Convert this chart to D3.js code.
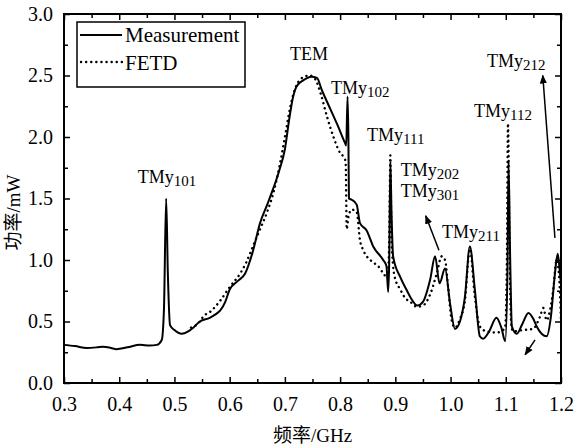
<!DOCTYPE html>
<html>
<head>
<meta charset="utf-8">
<script src="https://cdn.jsdelivr.net/npm/d3@7/dist/d3.min.js"></script>
<style>
  body { margin: 0; background: #fff; }
  text { font-family: "Liberation Serif", "Noto Sans CJK SC", serif; fill: #000; }
</style>
</head>
<body>
<div id="chart"></div>
<script>
// measured power (solid)
var measFreq = [0.300, 0.320, 0.341, 0.360, 0.371, 0.385, 0.395, 0.415, 0.438, 0.455, 0.468, 0.477, 0.481, 0.485, 0.488, 0.492,
    0.500, 0.513, 0.525, 0.534, 0.546, 0.564, 0.575, 0.583, 0.592, 0.600, 0.615, 0.628, 0.642, 0.655, 0.668, 0.678, 0.690,
    0.700, 0.708, 0.715, 0.721, 0.733, 0.748, 0.758, 0.767, 0.780, 0.795, 0.809, 0.811, 0.8135, 0.815, 0.816, 0.821, 0.830,
    0.836, 0.848, 0.860, 0.878, 0.884, 0.887, 0.889, 0.891, 0.893, 0.896, 0.909, 0.920, 0.927, 0.940, 0.950, 0.963, 0.972,
    0.980, 0.990, 0.999, 1.008, 1.017, 1.026, 1.035, 1.044, 1.053, 1.059, 1.070, 1.083, 1.092, 1.099, 1.103, 1.105, 1.108,
    1.111, 1.120, 1.130, 1.141, 1.150, 1.156, 1.174, 1.182, 1.189, 1.194, 1.197, 1.200];
var measPower = [0.31, 0.30, 0.285, 0.29, 0.295, 0.285, 0.275, 0.29, 0.31, 0.305, 0.31, 0.35, 0.60, 1.50, 0.90, 0.47,
    0.43, 0.40, 0.42, 0.45, 0.50, 0.53, 0.56, 0.59, 0.66, 0.76, 0.83, 0.89, 1.07, 1.30, 1.45, 1.57, 1.73,
    1.90, 2.15, 2.33, 2.41, 2.46, 2.49, 2.48, 2.38, 2.25, 2.10, 1.95, 1.93, 2.33, 2.00, 1.50, 1.49, 1.45,
    1.30, 1.24, 1.11, 1.00, 0.95, 0.74, 1.00, 1.80, 1.40, 1.03, 0.86, 0.76, 0.70, 0.63, 0.66, 0.84, 1.03,
    0.81, 0.93, 0.65, 0.44, 0.50, 0.70, 1.11, 0.76, 0.38, 0.36, 0.42, 0.53, 0.45, 0.34, 0.90, 1.80, 1.00,
    0.46, 0.40, 0.48, 0.57, 0.52, 0.46, 0.38, 0.55, 0.89, 1.05, 0.95, 0.80];

// FETD simulation (dotted)
var fetdFreq = [0.530, 0.546, 0.552, 0.565, 0.583, 0.600, 0.619, 0.630, 0.642, 0.655, 0.667, 0.680, 0.691, 0.700, 0.710,
    0.721, 0.735, 0.745, 0.755, 0.765, 0.776, 0.788, 0.800, 0.806, 0.810, 0.812, 0.815, 0.821, 0.830, 0.836, 0.842,
    0.857, 0.869, 0.880, 0.886, 0.889, 0.891, 0.893, 0.896, 0.899, 0.909, 0.918, 0.927, 0.939, 0.950, 0.963, 0.975,
    0.984, 0.990, 0.996, 1.002, 1.008, 1.017, 1.026, 1.035, 1.044, 1.053, 1.065, 1.083, 1.095, 1.099, 1.102, 1.104,
    1.107, 1.110, 1.113, 1.131, 1.149, 1.162, 1.168, 1.174, 1.180, 1.186, 1.192, 1.196, 1.200];
var fetdPower = [0.45, 0.50, 0.54, 0.58, 0.67, 0.78, 0.89, 0.98, 1.11, 1.25, 1.38, 1.56, 1.78, 2.00, 2.25,
    2.42, 2.49, 2.50, 2.47, 2.35, 2.17, 2.00, 1.87, 1.84, 1.80, 1.25, 1.35, 1.41, 1.39, 1.16, 1.08,
    0.99, 0.95, 0.88, 0.85, 1.20, 1.85, 1.20, 0.95, 0.86, 0.76, 0.69, 0.66, 0.62, 0.63, 0.72, 0.89,
    1.03, 1.00, 0.76, 0.51, 0.45, 0.52, 0.67, 1.09, 0.70, 0.46, 0.42, 0.41, 0.43, 0.46, 1.00, 2.11,
    1.00, 0.47, 0.42, 0.43, 0.44, 0.54, 0.61, 0.51, 0.59, 0.76, 1.00, 0.90, 0.50];

var xTicks = [0.3, 0.4, 0.5, 0.6, 0.7, 0.8, 0.9, 1.0, 1.1, 1.2];
var yTicks = [0, 0.5, 1.0, 1.5, 2.0, 2.5, 3.0];

// mode labels: main text, subscript, anchor point (GHz, mW)
var labelMain = ["TMy", "TEM", "TMy", "TMy", "TMy", "TMy", "TMy", "TMy", "TMy"];
var labelSub = ["101", "", "102", "111", "202", "301", "211", "112", "212"];
var labelX = [0.4865, 0.7437, 0.7835, 0.8487, 0.910, 0.910, 0.9845, 1.0425, 1.066];
var labelY = [1.63, 2.63, 2.35, 1.97, 1.68, 1.51, 1.18, 2.16, 2.57];
var labelAnchor = ["middle", "middle", "start", "start", "start", "start", "start", "start", "start"];

// arrows: from (x1,y1) to (x2,y2)
var arrowX1 = [0.979, 1.153, 1.189];
var arrowY1 = [1.08, 0.35, 1.18];
var arrowX2 = [0.955, 1.135, 1.167];
var arrowY2 = [1.36, 0.23, 2.50];

var margin = {top: 14, right: 14, bottom: 63, left: 64},
    width = 575 - margin.left - margin.right,
    height = 446 - margin.top - margin.bottom;

var svg = d3.select("#chart").append("svg")
    .attr("width", 575)
    .attr("height", 446);

var defs = svg.append("defs");
defs.append("marker")
    .attr("id", "head")
    .attr("viewBox", "0 0 10 10")
    .attr("refX", 9).attr("refY", 5)
    .attr("markerWidth", 9).attr("markerHeight", 9)
    .attr("markerUnits", "userSpaceOnUse")
    .attr("orient", "auto")
  .append("path")
    .attr("d", "M0,1 L10,5 L0,9 Z")
    .attr("fill", "#000");

var g = svg.append("g")
    .attr("transform", "translate(" + margin.left + "," + margin.top + ")");

var x = d3.scaleLinear().domain([0.3, 1.2]).range([0, width]);
var y = d3.scaleLinear().domain([0, 3.0]).range([height, 0]);

// minor ticks
var xMinor = d3.range(0.35, 1.2, 0.1);
var yMinor = d3.range(0.25, 3.0, 0.5);

function styleAxis(sel) {
    sel.select(".domain").remove();
    sel.selectAll("line").attr("stroke", "#000").attr("stroke-width", 1.5);
    sel.selectAll("text").style("font-size", "20px");
}

g.append("g")
    .attr("transform", "translate(0," + height + ")")
    .call(d3.axisBottom(x).tickValues(xTicks).tickFormat(d3.format(".1f")).tickSizeInner(-6).tickSizeOuter(0).tickPadding(14))
    .call(styleAxis);
g.append("g")
    .attr("transform", "translate(0," + height + ")")
    .call(d3.axisBottom(x).tickValues(xMinor).tickFormat("").tickSizeInner(-4).tickSizeOuter(0))
    .call(styleAxis);
g.append("g")
    .call(d3.axisTop(x).tickValues(xTicks).tickFormat("").tickSizeInner(-6).tickSizeOuter(0))
    .call(styleAxis);
g.append("g")
    .call(d3.axisTop(x).tickValues(xMinor).tickFormat("").tickSizeInner(-4).tickSizeOuter(0))
    .call(styleAxis);

g.append("g")
    .call(d3.axisLeft(y).tickValues(yTicks).tickFormat(d3.format(".1f")).tickSizeInner(-6).tickSizeOuter(0).tickPadding(11))
    .call(styleAxis);
g.append("g")
    .call(d3.axisLeft(y).tickValues(yMinor).tickFormat("").tickSizeInner(-4).tickSizeOuter(0))
    .call(styleAxis);
g.append("g")
    .attr("transform", "translate(" + width + ",0)")
    .call(d3.axisRight(y).tickValues(yTicks).tickFormat("").tickSizeInner(-6).tickSizeOuter(0))
    .call(styleAxis);
g.append("g")
    .attr("transform", "translate(" + width + ",0)")
    .call(d3.axisRight(y).tickValues(yMinor).tickFormat("").tickSizeInner(-4).tickSizeOuter(0))
    .call(styleAxis);

// frame
g.append("rect")
    .attr("width", width).attr("height", height)
    .attr("fill", "none").attr("stroke", "#000").attr("stroke-width", 2);

var clip = defs.append("clipPath").attr("id", "plotclip");
clip.append("rect").attr("width", width).attr("height", height);

var line = d3.line()
    .curve(d3.curveMonotoneX)
    .x(function(d) { return x(d[0]); })
    .y(function(d) { return y(d[1]); });

var measData = measFreq.map(function(f, i) { return [f, measPower[i]]; });
var fetdData = fetdFreq.map(function(f, i) { return [f, fetdPower[i]]; });

var plot = g.append("g").attr("clip-path", "url(#plotclip)");

plot.append("path")
    .datum(fetdData)
    .attr("d", line)
    .attr("fill", "none")
    .attr("stroke", "#000")
    .attr("stroke-width", 2.4)
    .attr("stroke-linecap", "round")
    .attr("stroke-dasharray", "0.1,5");

plot.append("path")
    .datum(measData)
    .attr("d", line)
    .attr("fill", "none")
    .attr("stroke", "#000")
    .attr("stroke-width", 2)
    .attr("stroke-linejoin", "round");

// mode labels
labelMain.forEach(function(t, i) {
    var txt = g.append("text")
        .attr("x", x(labelX[i]))
        .attr("y", y(labelY[i]))
        .attr("text-anchor", labelAnchor[i])
        .style("font-size", "18px");
    txt.append("tspan").text(t);
    if (labelSub[i]) {
        txt.append("tspan")
            .attr("dy", 3)
            .style("font-size", "15px")
            .text(labelSub[i]);
    }
});

// arrows
arrowX1.forEach(function(v, i) {
    g.append("line")
        .attr("x1", x(v)).attr("y1", y(arrowY1[i]))
        .attr("x2", x(arrowX2[i])).attr("y2", y(arrowY2[i]))
        .attr("stroke", "#000").attr("stroke-width", 1.5)
        .attr("marker-end", "url(#head)");
});

// legend
var legend = g.append("g").attr("transform", "translate(13,8)");
legend.append("rect")
    .attr("width", 168).attr("height", 65)
    .attr("fill", "#fff").attr("stroke", "#000").attr("stroke-width", 1.5);
legend.append("line")
    .attr("x1", 3).attr("x2", 45).attr("y1", 13).attr("y2", 13)
    .attr("stroke", "#000").attr("stroke-width", 2);
legend.append("line")
    .attr("x1", 4).attr("x2", 45).attr("y1", 40).attr("y2", 40)
    .attr("stroke", "#000").attr("stroke-width", 2.4)
    .attr("stroke-linecap", "round").attr("stroke-dasharray", "0.1,5");
legend.append("text").attr("x", 48).attr("y", 20).style("font-size", "21px").text("Measurement");
legend.append("text").attr("x", 48).attr("y", 48).style("font-size", "21px").text("FETD");

// axis titles
svg.append("text")
    .attr("x", margin.left + width / 2)
    .attr("y", 442)
    .attr("text-anchor", "middle")
    .style("font-size", "19px")
    .text("频率/GHz");
svg.append("text")
    .attr("transform", "translate(20," + (margin.top + height / 2 + 14) + ") rotate(-90)")
    .attr("text-anchor", "middle")
    .style("font-size", "19px")
    .text("功率/mW");
</script>
</body>
</html>
